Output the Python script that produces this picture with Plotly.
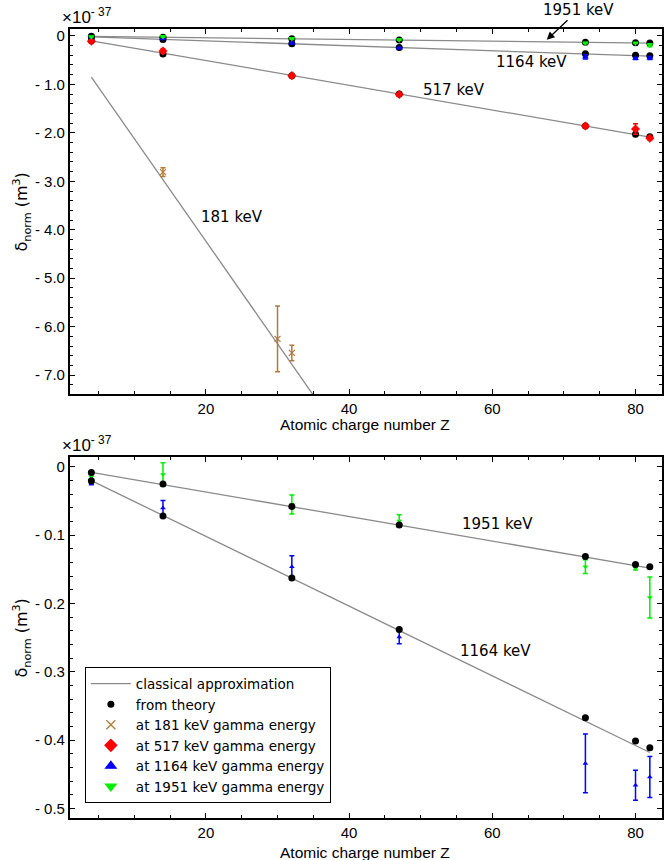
import plotly.graph_objects as go
from plotly.subplots import make_subplots

W, H = 664, 860
TICK_FONT = dict(family='Liberation Sans', size=15, color='black')
TEXT_FONT = dict(family='DejaVu Sans', size=15, color='black')

# atomic charge numbers of the targets
Z = [4, 14, 32, 47, 73, 80, 82]

# classical approximation lines (start/end points, units of 1e-37 m^3)
LINE_Z = [4, 82]
line_181 = [-0.85, -17.36]
line_517 = [-0.10, -2.09]
line_1164 = [-0.020, -0.418]
line_1951 = [-0.008, -0.148]

# from theory
theory_517 = [-0.10, -0.375, -0.82, -1.20, -1.86, -2.03, -2.08]
theory_1164 = [-0.0204, -0.072, -0.1625, -0.238, -0.367, -0.401, -0.411]
theory_1951 = [-0.0083, -0.025, -0.058, -0.085, -0.131, -0.143, -0.146]

# measured at 181 keV
z_181 = [14, 30, 32]
meas_181 = [-2.81, -6.25, -6.54]
err_181 = [0.09, 0.68, 0.16]

# measured at 517 keV
meas_517 = [-0.11, -0.31, -0.82, -1.21, -1.86, -1.92, -2.11]
err_517 = [0.02, 0.04, 0.02, 0.02, 0.03, 0.11, 0.04]

# measured at 1164 keV
meas_1164 = [-0.023, -0.060, -0.146, -0.249, -0.434, -0.466, -0.454]
err_1164 = [0.003, 0.011, 0.016, 0.010, 0.043, 0.022, 0.030]

# measured at 1951 keV
meas_1951 = [-0.0146, -0.011, -0.055, -0.079, -0.146, -0.148, -0.191]
err_1951 = [0.003, 0.017, 0.014, 0.009, 0.010, 0.003, 0.030]

top_ticks = [0, -1, -2, -3, -4, -5, -6, -7]
top_ticktext = ['0', '- 1.0', '- 2.0', '- 3.0', '- 4.0', '- 5.0', '- 6.0', '- 7.0']
bot_ticks = [0, -0.1, -0.2, -0.3, -0.4, -0.5]
bot_ticktext = ['0', '- 0.1', '- 0.2', '- 0.3', '- 0.4', '- 0.5']

GRAY = '#8a8a8a'
BROWN = '#b07a3c'
RED = '#ff0000'
BLUE = '#0000ff'
GREEN = '#00ee00'

fig = make_subplots(rows=2, cols=1)


def add_line(y, row, show=False):
    fig.add_trace(go.Scatter(x=LINE_Z, y=y, mode='lines', line=dict(color=GRAY, width=1.3),
                             name='classical approximation', showlegend=show, legendrank=1),
                  row=row, col=1)


def add_meas(x, y, err, color, symbol, size, name, row, show=False, rank=3):
    fig.add_trace(go.Scatter(x=x, y=y, mode='markers',
                             marker=dict(color=color, symbol=symbol, size=size, line=dict(width=0)),
                             error_y=dict(type='data', array=err, color=color, thickness=1.5, width=2.5),
                             name=name, showlegend=show, legendrank=rank),
                  row=row, col=1)


def add_theory(y, row, show=False):
    fig.add_trace(go.Scatter(x=Z, y=y, mode='markers', marker=dict(color='black', size=7),
                             name='from theory', showlegend=show, legendrank=2),
                  row=row, col=1)


# top panel
add_line(line_181, 1)
add_line(line_517, 1)
add_line(line_1164, 1)
add_line(line_1951, 1)
add_theory(theory_517, 1)
add_theory(theory_1164, 1)
add_theory(theory_1951, 1)
add_meas(z_181, meas_181, err_181, BROWN, 'x-thin-open', 6, 'at 181 keV gamma energy', 1)
add_meas(Z, meas_517, err_517, RED, 'diamond', 7, 'at 517 keV gamma energy', 1)
add_meas(Z, meas_1164, err_1164, BLUE, 'triangle-up', 6, 'at 1164 keV gamma energy', 1)
add_meas(Z, meas_1951, err_1951, GREEN, 'triangle-down', 6, 'at 1951 keV gamma energy', 1)
fig.data[7].marker.line = dict(width=1.3, color=BROWN)

# bottom panel (legend lives here)
add_line(line_1164, 2, show=True)
add_line(line_1951, 2)
add_meas(Z, meas_1164, err_1164, BLUE, 'triangle-up', 5, 'at 1164 keV gamma energy', 2)
add_meas(Z, meas_1951, err_1951, GREEN, 'triangle-down', 5, 'at 1951 keV gamma energy', 2)
add_theory(theory_1164, 2, show=True)
add_theory(theory_1951, 2)

# legend entries (no data drawn)
legend_items = [
    ('at 181 keV gamma energy', BROWN, 'x-thin-open', 9, 3),
    ('at 517 keV gamma energy', RED, 'diamond', 9, 4),
    ('at 1164 keV gamma energy', BLUE, 'triangle-up', 9, 5),
    ('at 1951 keV gamma energy', GREEN, 'triangle-down', 9, 6),
]
for name, color, symbol, size, rank in legend_items:
    fig.add_trace(go.Scatter(x=[None], y=[None], mode='markers',
                             marker=dict(color=color, symbol=symbol, size=size, line=dict(width=1.3, color=color)),
                             name=name, legendrank=rank), row=2, col=1)

axis_style = dict(showgrid=False, zeroline=False, showline=True, linecolor='black', linewidth=2,
                  mirror='allticks', ticks='inside', ticklen=5, tickcolor='black', tickfont=TICK_FONT)

fig.update_xaxes(**axis_style, range=[1, 83.7], tickvals=[20, 40, 60, 80],
                 minor=dict(ticks='inside', dtick=5, tick0=0, ticklen=3, tickcolor='black'))
fig.update_yaxes(**axis_style)
fig.update_yaxes(range=[-7.39, 0.144], tickvals=top_ticks, ticktext=top_ticktext,
                 minor=dict(ticks='inside', dtick=0.2, tick0=0, ticklen=3, tickcolor='black'), row=1, col=1)
fig.update_yaxes(range=[-0.514, 0.0146], tickvals=bot_ticks, ticktext=bot_ticktext,
                 minor=dict(ticks='inside', dtick=0.02, tick0=0, ticklen=3, tickcolor='black'), row=2, col=1)

fig.update_layout(
    width=W, height=H,
    paper_bgcolor='white', plot_bgcolor='white',
    margin=dict(l=0, r=0, t=0, b=0),
    xaxis=dict(domain=[70 / W, 663 / W]),
    xaxis2=dict(domain=[70 / W, 663 / W]),
    yaxis=dict(domain=[1 - 393 / H, 1 - 27 / H]),
    yaxis2=dict(domain=[1 - 818 / H, 1 - 456 / H]),
    legend=dict(x=85 / W, y=1 - 667 / H, xanchor='left', yanchor='top',
                bordercolor='black', borderwidth=1, bgcolor='white',
                font=dict(family='DejaVu Sans', size=13.5, color='black'),
                tracegroupgap=0, itemwidth=40),
)

annotations = [
    dict(text='×10<sup>- 37</sup>', x=60 / W, y=1 - 14 / H, xref='paper', yref='paper',
         xanchor='left', yanchor='middle', showarrow=False,
         font=dict(family='Liberation Sans', size=17, color='black')),
    dict(text='×10<sup>- 37</sup>', x=60 / W, y=1 - 443 / H, xref='paper', yref='paper',
         xanchor='left', yanchor='middle', showarrow=False,
         font=dict(family='Liberation Sans', size=17, color='black')),
    dict(text='δ<sub>norm</sub> (m<sup>3</sup>)', x=22 / W, y=1 - 210 / H, xref='paper', yref='paper',
         xanchor='center', yanchor='middle', textangle=-90, showarrow=False,
         font=dict(family='DejaVu Sans', size=16, color='black')),
    dict(text='δ<sub>norm</sub> (m<sup>3</sup>)', x=22 / W, y=1 - 637 / H, xref='paper', yref='paper',
         xanchor='center', yanchor='middle', textangle=-90, showarrow=False,
         font=dict(family='DejaVu Sans', size=16, color='black')),
    dict(text='Atomic charge number Z', x=366 / W, y=1 - 423 / H, xref='paper', yref='paper',
         xanchor='center', yanchor='middle', showarrow=False,
         font=dict(family='Liberation Sans', size=15.5, color='black')),
    dict(text='Atomic charge number Z', x=366 / W, y=1 - 852 / H, xref='paper', yref='paper',
         xanchor='center', yanchor='middle', showarrow=False,
         font=dict(family='Liberation Sans', size=15.5, color='black')),
    # top panel labels
    dict(text='1951 keV', x=67.6, y=-0.08, xref='x', yref='y', ax=32, ay=-30,
         showarrow=True, arrowhead=2, arrowsize=1.2, arrowwidth=1.3, arrowcolor='black', font=TEXT_FONT),
    dict(text='1164 keV', x=65.5, y=-0.535, xref='x', yref='y', showarrow=False, font=TEXT_FONT),
    dict(text='517 keV', x=54.7, y=-1.11, xref='x', yref='y', showarrow=False, font=TEXT_FONT),
    dict(text='181 keV', x=23.7, y=-3.73, xref='x', yref='y', showarrow=False, font=TEXT_FONT),
    # bottom panel labels
    dict(text='1951 keV', x=60.7, y=-0.083, xref='x2', yref='y2', showarrow=False, font=TEXT_FONT),
    dict(text='1164 keV', x=60.4, y=-0.269, xref='x2', yref='y2', showarrow=False, font=TEXT_FONT),
]
fig.update_layout(annotations=annotations)

fig.write_html('out.html', config={'displayModeBar': False},
               post_script="document.body.style.margin='0';")
